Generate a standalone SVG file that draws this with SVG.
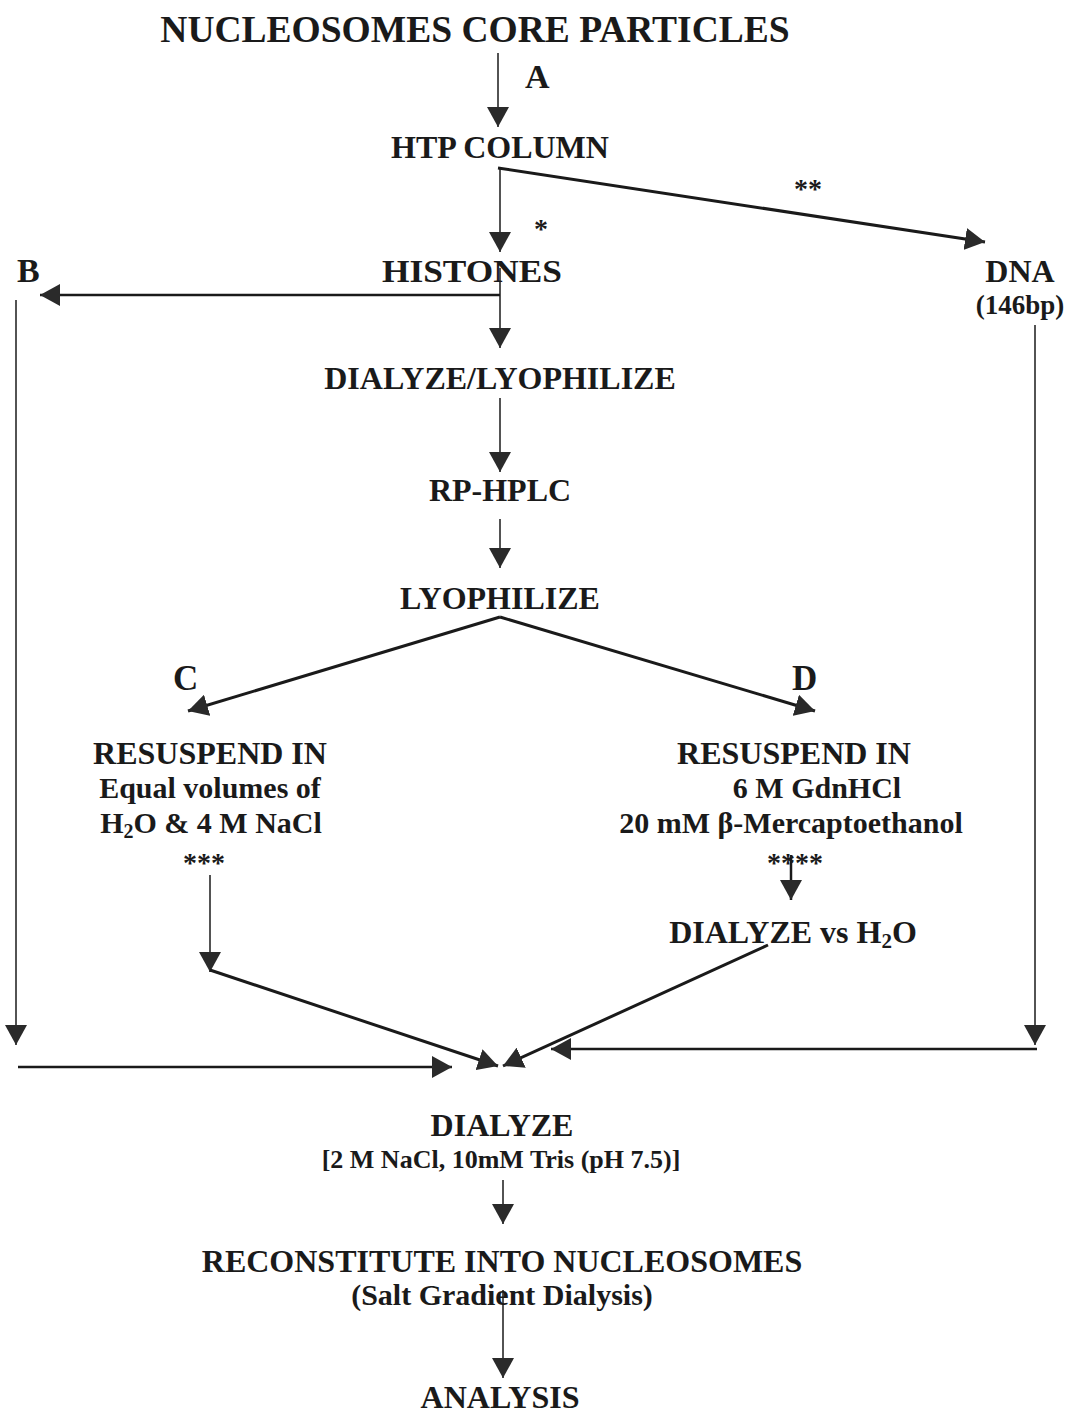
<svg xmlns="http://www.w3.org/2000/svg" width="1071" height="1418" viewBox="0 0 1071 1418">
<defs>
<style>
text{font-family:"Liberation Serif","Times New Roman",serif;font-weight:bold;fill:#1a1a1a}
.m{font-size:32px;text-anchor:middle}
.s{font-size:30px;text-anchor:middle}
.l{font-size:34px}
.st{font-size:28px}
.c line,.c path{stroke:#1a1a1a;fill:none;marker-end:url(#ah)}
.t1{stroke-width:1.5}
.t2{stroke-width:2.5}
.t3{stroke-width:3}
</style>
<marker id="ah" markerUnits="userSpaceOnUse" markerWidth="20" markerHeight="22" viewBox="0 0 20 22" refX="20" refY="11" orient="auto">
<path d="M0,0 L20,11 L0,22 z" fill="#2a2a2a"/>
</marker>
</defs>
<rect width="1071" height="1418" fill="#fff"/>

<g id="connectors" class="c">
<line class="t1" x1="498" y1="53" x2="498" y2="127"/>
<line class="t1" x1="500" y1="168" x2="500" y2="252"/>
<line class="t3" x1="498" y1="168" x2="985" y2="242"/>
<line class="t2" x1="500" y1="295" x2="40" y2="295"/>
<line class="t1" x1="500" y1="268" x2="500" y2="348"/>
<line class="t1" x1="500" y1="398" x2="500" y2="472"/>
<line class="t1" x1="500" y1="519" x2="500" y2="568"/>
<line class="t3" x1="500" y1="617" x2="188" y2="711"/>
<line class="t3" x1="500" y1="617" x2="815" y2="711"/>
<line class="t1" x1="16" y1="300" x2="16" y2="1045"/>
<line class="t2" x1="18" y1="1067" x2="452" y2="1067"/>
<line class="t1" x1="1035" y1="325" x2="1035" y2="1045"/>
<line class="t2" x1="1037" y1="1049" x2="551" y2="1049"/>
<line class="t1" x1="210" y1="875" x2="210" y2="972"/>
<line class="t3" x1="210" y1="970" x2="498" y2="1066"/>
<line class="t2" x1="791" y1="855" x2="791" y2="900"/>
<line class="t3" x1="768" y1="945" x2="503" y2="1066"/>
<line class="t1" x1="503" y1="1180" x2="503" y2="1224"/>
<line class="t1" x1="503" y1="1290" x2="503" y2="1378"/>
</g>

<g id="title"><text x="475" y="42" font-size="37.5" text-anchor="middle">NUCLEOSOMES CORE PARTICLES</text></g>
<g id="label-A"><text class="l" x="525" y="88">A</text></g>
<g id="htp"><text class="m" x="500" y="158">HTP COLUMN</text></g>
<g id="star1"><text class="st" x="534" y="238">*</text></g>
<g id="star2"><text class="st" x="794" y="198">**</text></g>
<g id="label-B"><text class="l" x="17" y="282">B</text></g>
<g id="histones"><text class="m" x="472" y="282" textLength="180" lengthAdjust="spacingAndGlyphs">HISTONES</text></g>
<g id="dna"><text class="m" x="1020" y="282">DNA</text><text x="1020" y="314" font-size="27" text-anchor="middle">(146bp)</text></g>
<g id="dialyze-lyo"><text class="m" x="500" y="389">DIALYZE/LYOPHILIZE</text></g>
<g id="rphplc"><text class="m" x="500" y="501">RP-HPLC</text></g>
<g id="lyophilize"><text class="m" x="500" y="609">LYOPHILIZE</text></g>
<g id="label-C"><text x="173" y="690" font-size="35">C</text></g>
<g id="label-D"><text x="792" y="690" font-size="35">D</text></g>
<g id="resuspend-c">
<text class="m" x="210" y="764">RESUSPEND IN</text>
<text class="s" x="210" y="798">Equal volumes of</text>
<text class="s" x="211" y="833">H<tspan font-size="20" dy="5">2</tspan><tspan dy="-5">O &amp; 4 M NaCl</tspan></text>
<text class="st" x="204" y="872" text-anchor="middle">***</text>
</g>
<g id="resuspend-d">
<text class="m" x="794" y="764">RESUSPEND IN</text>
<text class="s" x="817" y="798">6 M GdnHCl</text>
<text class="s" x="791" y="833">20 mM β-Mercaptoethanol</text>
<text class="st" x="795" y="872" text-anchor="middle">****</text>
</g>
<g id="dialyze-h2o"><text class="m" x="793" y="943">DIALYZE vs H<tspan font-size="21" dy="5">2</tspan><tspan dy="-5">O</tspan></text></g>
<g id="dialyze"><text class="m" x="502" y="1136">DIALYZE</text><text x="501" y="1168" font-size="26" text-anchor="middle">[2 M NaCl, 10mM Tris (pH 7.5)]</text></g>
<g id="reconstitute"><text class="m" x="502" y="1272">RECONSTITUTE INTO NUCLEOSOMES</text><text class="s" x="502" y="1305">(Salt Gradient Dialysis)</text></g>
<g id="analysis"><text class="m" x="500" y="1408">ANALYSIS</text></g>
</svg>
